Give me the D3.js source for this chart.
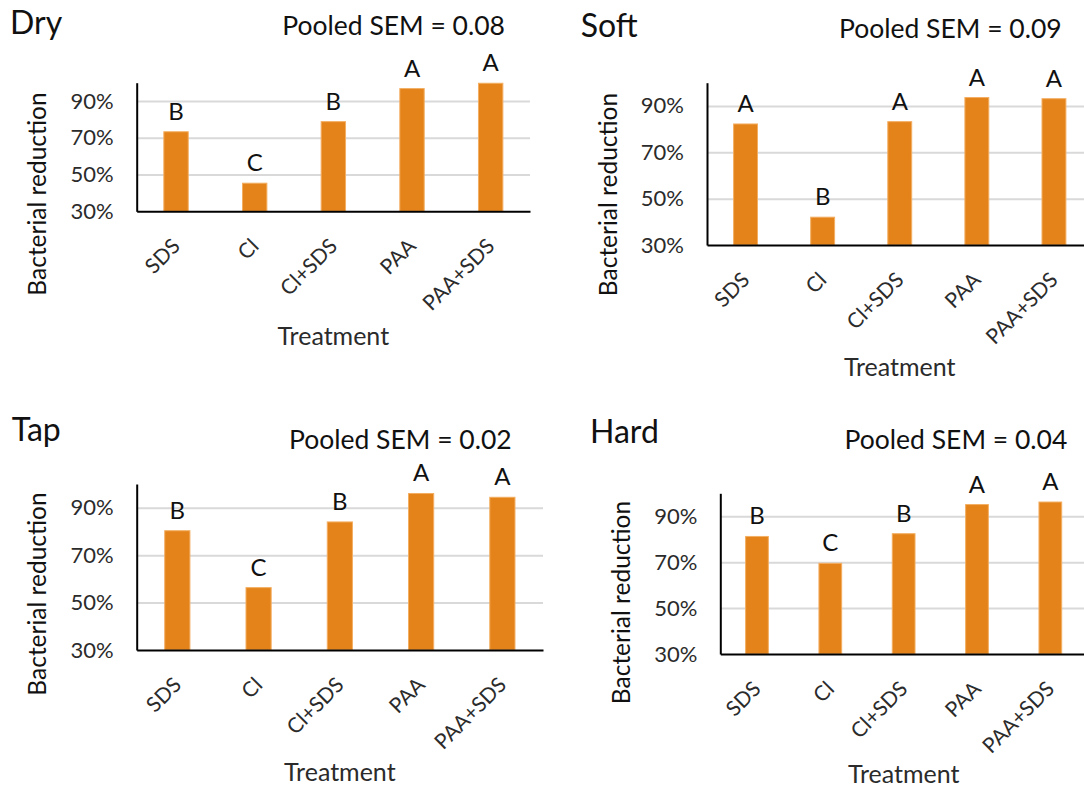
<!DOCTYPE html>
<html>
<head>
<meta charset="utf-8">
<script src="https://cdn.jsdelivr.net/npm/d3@7"></script>
<style>
  html, body { margin: 0; padding: 0; background: #fff; }
  svg { display: block; }
  text { font-family: Lato, "Open Sans", sans-serif; }
</style>
</head>
<body>
<svg id="chart" width="1084" height="790"></svg>
<script>
// Treatments shared by all four water conditions
const categories = ["SDS", "Cl", "Cl+SDS", "PAA", "PAA+SDS"];

// Mean bacterial reduction (fraction) per treatment
const dryValues  = [0.733, 0.453, 0.788, 0.968, 0.997];
const softValues = [0.822, 0.420, 0.832, 0.936, 0.931];
const tapValues  = [0.803, 0.563, 0.840, 0.960, 0.944];
const hardValues = [0.812, 0.695, 0.824, 0.951, 0.962];

// Significance groupings (Tukey letters)
const dryLetters  = ["B", "C", "B", "A", "A"];
const softLetters = ["A", "B", "A", "A", "A"];
const tapLetters  = ["B", "C", "B", "A", "A"];
const hardLetters = ["B", "C", "B", "A", "A"];

// Pooled standard error for each condition
const panelNames = ["Dry", "Soft", "Tap", "Hard"];
const pooledSEM  = [0.08, 0.09, 0.02, 0.04];

// Value axis
const yDomain = [0.3, 1.0];
const yTicks  = [0.3, 0.5, 0.7, 0.9];

const yAxisTitle = "Bacterial reduction";
const xAxisTitle = "Treatment";

// Page layout of the four plots (pixels)
const layout = [
  { x0: 136.7, x1: 530,    yTop: 82.7,  yBase: 211.3, titleX: 10,    titleY: 34.3,  semX: 505,    semY: 35,    yLabX: 37.7, yLabY: 194,   xLabY: 345 },
  { x0: 707,   x1: 1092.5, yTop: 82.7,  yBase: 245,   titleX: 580.7, titleY: 37.3,  semX: 1061.7, semY: 38.3,  yLabX: 608,  yLabY: 194.5, xLabY: 376 },
  { x0: 136.7, x1: 543,    yTop: 484,   yBase: 650,   titleX: 11.7,  titleY: 440.7, semX: 511.7,  semY: 449.3, yLabX: 37.5, yLabY: 594,   xLabY: 780.7 },
  { x0: 720.3, x1: 1087,   yTop: 493.3, yBase: 654,   titleX: 590,   titleY: 443.3, semX: 1067.3, semY: 449.3, yLabX: 621,  yLabY: 602.5, xLabY: 783.3 }
];

const seriesValues  = [dryValues, softValues, tapValues, hardValues];
const seriesLetters = [dryLetters, softLetters, tapLetters, hardLetters];

const BAR_FILL = "#E3831A";
const BAR_EDGE = "#F3AE62";
const GRID = "#D9D9D9";
const INK = "#111";
const TICK_INK = "#2b2b2b";

const svg = d3.select("#chart");
svg.append("rect").attr("width", 1084).attr("height", 790).attr("fill", "#fff");

panelNames.forEach((name, i) => {
  const L = layout[i];
  const values = seriesValues[i];
  const letters = seriesLetters[i];
  const data = categories.map((c, k) => ({ cat: c, value: values[k], letter: letters[k] }));

  const x = d3.scaleBand()
    .domain(categories)
    .range([L.x0, L.x1])
    .paddingInner(0.69)
    .paddingOuter(0.345);

  const y = d3.scaleLinear().domain(yDomain).range([L.yBase, L.yTop]);

  const g = svg.append("g").attr("class", "panel");

  // horizontal gridlines
  g.append("g")
    .attr("transform", `translate(${L.x0},0)`)
    .call(d3.axisLeft(y).tickValues(yTicks.filter(t => t > yDomain[0]))
      .tickSize(-(L.x1 - L.x0)).tickFormat(""))
    .call(s => s.select(".domain").remove())
    .call(s => s.selectAll("line").attr("stroke", GRID).attr("stroke-width", 2));

  // bars
  g.append("g").selectAll("rect")
    .data(data)
    .join("rect")
    .attr("x", d => x(d.cat))
    .attr("width", x.bandwidth())
    .attr("y", d => y(d.value))
    .attr("height", d => y(yDomain[0]) - y(d.value))
    .attr("fill", BAR_FILL)
    .attr("stroke", BAR_EDGE)
    .attr("stroke-width", 1);

  // significance letters
  g.append("g").selectAll("text")
    .data(data)
    .join("text")
    .attr("x", d => x(d.cat) + x.bandwidth() / 2)
    .attr("y", d => y(d.value) - 12)
    .attr("text-anchor", "middle")
    .attr("font-size", 24)
    .attr("fill", INK)
    .text(d => d.letter);

  // y axis
  g.append("g")
    .attr("transform", `translate(${L.x0},0)`)
    .call(d3.axisLeft(y).tickValues(yTicks).tickFormat(d3.format(".0%"))
      .tickSize(0).tickSizeOuter(0).tickPadding(23))
    .call(s => s.select(".domain").attr("stroke", "#000").attr("stroke-width", 2))
    .call(s => s.selectAll("text")
      .attr("font-size", 22)
      .attr("font-family", "Lato, 'Open Sans', sans-serif")
      .attr("fill", TICK_INK));

  // x axis with slanted category labels
  g.append("g")
    .attr("transform", `translate(0,${L.yBase})`)
    .call(d3.axisBottom(x).tickSize(0).tickSizeOuter(0))
    .call(s => s.select(".domain").attr("stroke", "#000").attr("stroke-width", 2))
    .call(s => s.selectAll(".tick text")
      .attr("x", 0)
      .attr("y", 0)
      .attr("dy", "0.35em")
      .attr("transform", "translate(0,31) rotate(-45)")
      .attr("text-anchor", "end")
      .attr("font-size", 21)
      .attr("font-family", "Lato, 'Open Sans', sans-serif")
      .attr("fill", TICK_INK));

  // panel title
  g.append("text")
    .attr("x", L.titleX).attr("y", L.titleY)
    .attr("font-size", 32).attr("fill", INK)
    .text(name);

  // pooled SEM note
  g.append("text")
    .attr("x", L.semX).attr("y", L.semY)
    .attr("text-anchor", "end")
    .attr("font-size", 26.5).attr("fill", INK)
    .text(`Pooled SEM = ${pooledSEM[i].toFixed(2)}`);

  // axis titles
  g.append("text")
    .attr("transform", `translate(${L.yLabX},${L.yLabY}) rotate(-90)`)
    .attr("dy", "0.35em")
    .attr("text-anchor", "middle")
    .attr("font-size", 24.5).attr("fill", INK)
    .text(yAxisTitle);

  g.append("text")
    .attr("x", (L.x0 + L.x1) / 2).attr("y", L.xLabY)
    .attr("text-anchor", "middle")
    .attr("font-size", 25).attr("fill", TICK_INK)
    .text(xAxisTitle);
});
</script>
</body>
</html>
